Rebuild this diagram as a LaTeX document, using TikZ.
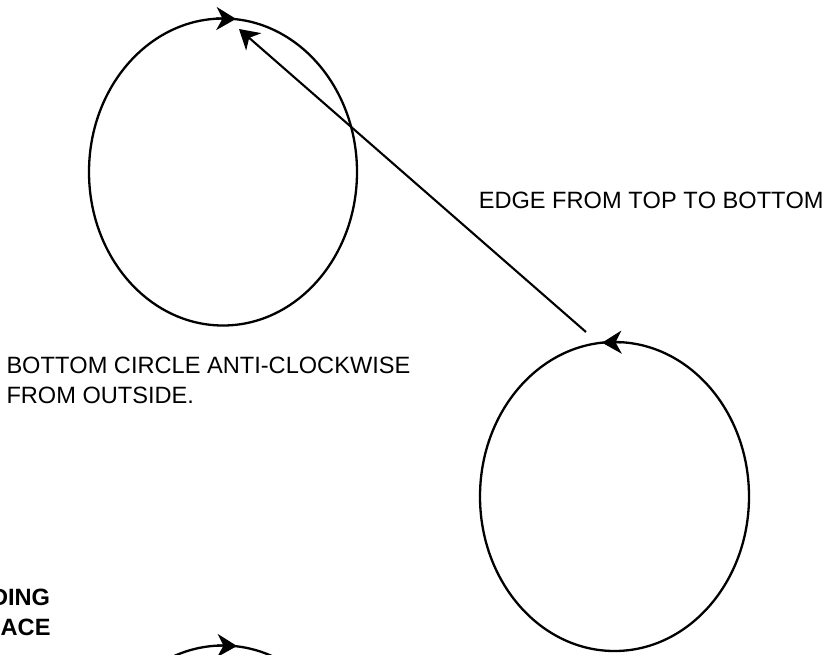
\documentclass[tikz,border=0pt]{standalone}
\usepackage{fontspec}
\setmainfont[Kerning=Off]{Liberation Sans}
\usetikzlibrary{arrows.meta,shapes.geometric,calc}
\begin{document}
\begin{tikzpicture}[x=1pt,y=-1pt,
  loop/.style={draw=black,line width=2.3pt,shape=ellipse,minimum width=268pt,minimum height=307pt,inner sep=0pt,outer sep=0pt},
  tipsty/.style={draw=black,line width=2.1pt,-{Stealth[length=19.5pt,width=23pt,inset=6pt]}},
  lbl/.style={inner sep=0pt,outer sep=0pt,font=\fontsize{23.6pt}{30pt}\selectfont},
  blbl/.style={inner sep=0pt,outer sep=0pt,font=\fontsize{23.6pt}{30pt}\selectfont\bfseries}]
\useasboundingbox (0,0) rectangle (829,654);
\clip (0,0) rectangle (829,654);
% circles
\node[loop] (tl) at (223,172) {};
\node[loop,minimum width=269pt,minimum height=309pt] (rc) at (614.5,496.5) {};
\node[loop] (bc) at (223,799) {};
% direction arrowheads on the circles
\draw[tipsty] ($(tl.north)+(-7,0)$) -- ($(tl.north)+(13,0.4)$);
\draw[tipsty] ($(rc.north)+(7,0.2)$) -- ($(rc.north)+(-12.5,0.7)$);
\draw[tipsty] ($(bc.north)+(-6,0)$) -- ($(bc.north)+(14,0.5)$);
% edge from top to bottom
\coordinate (es) at (586,332);
\coordinate (ee) at (239,29);
\draw[tipsty] (es) -- (ee);
% labels
\node[lbl,anchor=base west] (edgelbl) at (478.8,208) {EDGE FROM TOP TO BOTTOM};
\node[lbl,anchor=base west] (botlbla) at (6.5,373) {BOTTOM CIRCLE ANTI-CLOCKWISE};
\node[lbl,anchor=base west] (botlblb) at (6.5,403) {FROM OUTSIDE.};
\node[blbl,anchor=base east] (bolda) at (50,605.5) {DING};
\node[blbl,anchor=base east] (boldb) at (50.5,635) {FACE};
\end{tikzpicture}
\end{document}
